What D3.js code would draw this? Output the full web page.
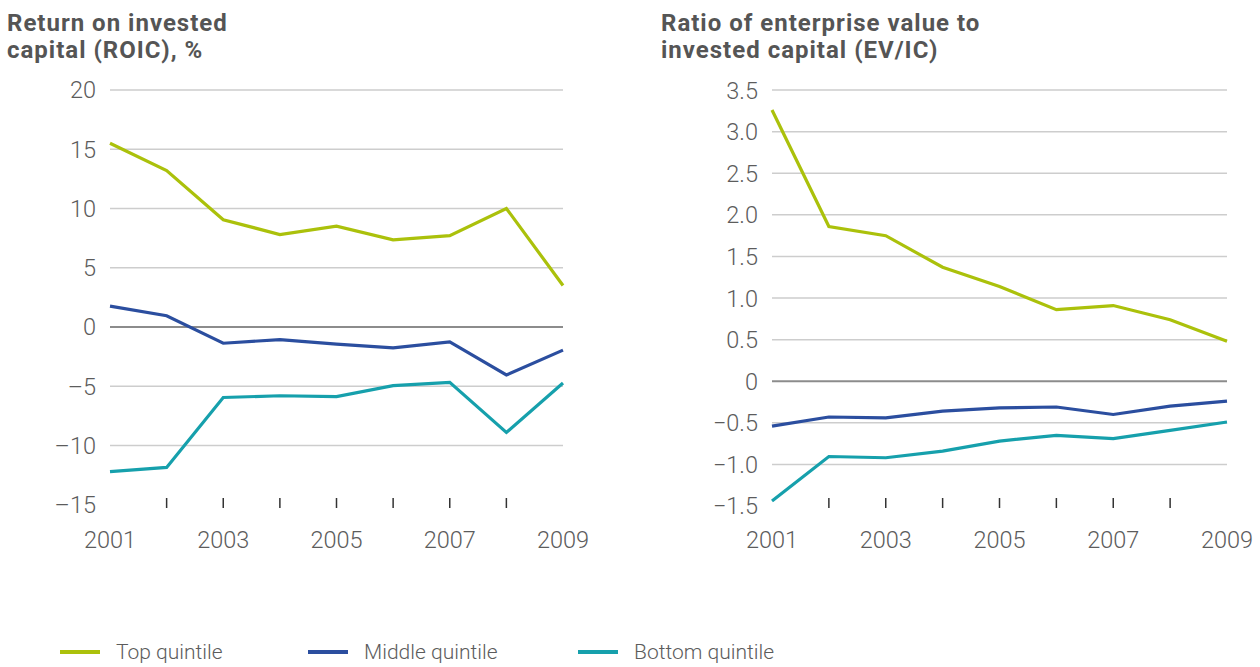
<!DOCTYPE html>
<html>
<head>
<meta charset="utf-8">
<script src="https://cdn.jsdelivr.net/npm/d3@7"></script>
<style>
    body { margin: 0; background: #fff; }
    svg { display: block; font-family: Roboto, "Noto Sans", sans-serif; }
    .title { font-weight: 700; font-size: 24px; fill: #555; letter-spacing: 1px; }
    .tick-label { font-weight: 300; font-size: 23.5px; fill: #5c5c5c; }
    .legend-label { font-weight: 300; font-size: 21px; fill: #5c5c5c; }
</style>
</head>
<body>
<svg width="1260" height="667"></svg>
<script>
"use strict";

const years = [2001, 2002, 2003, 2004, 2005, 2006, 2007, 2008, 2009];
const yearLabels = [2001, 2003, 2005, 2007, 2009];

const roicTop = [15.5, 13.2, 9.05, 7.8, 8.5, 7.35, 7.7, 10.0, 3.5];
const roicMiddle = [1.76, 0.95, -1.37, -1.06, -1.45, -1.76, -1.26, -4.05, -1.95];
const roicBottom = [-12.2, -11.85, -5.95, -5.8, -5.87, -4.95, -4.67, -8.9, -4.72];
const roicTicks = [20, 15, 10, 5, 0, -5, -10, -15];

const evicTop = [3.26, 1.86, 1.75, 1.37, 1.14, 0.86, 0.91, 0.74, 0.48];
const evicMiddle = [-0.54, -0.43, -0.44, -0.36, -0.32, -0.31, -0.40, -0.30, -0.24];
const evicBottom = [-1.44, -0.905, -0.92, -0.84, -0.72, -0.65, -0.69, -0.59, -0.49];
const evicTicks = [3.5, 3.0, 2.5, 2.0, 1.5, 1.0, 0.5, 0, -0.5, -1.0, -1.5];

const seriesNames = ['Top quintile', 'Middle quintile', 'Bottom quintile'];
const colorMapping = {
    'Top quintile': '#abc10b',
    'Middle quintile': '#2b4e9f',
    'Bottom quintile': '#16a0ac'
};

const minus = s => String(s).replace('-', '\u2013');

const svg = d3.select('svg');

function drawPanel(opts) {
    const g = svg.append('g');

    const x = d3.scaleLinear().domain([2001, 2009]).range([opts.x0, opts.x1]);
    const y = d3.scaleLinear().domain([opts.ticks[opts.ticks.length - 1], opts.ticks[0]]).range(opts.yRange);

    // title
    g.append('text')
        .attr('class', 'title')
        .attr('x', opts.titleX)
        .attr('y', 30.5)
        .selectAll('tspan')
        .data(opts.title)
        .enter().append('tspan')
        .attr('x', opts.titleX)
        .attr('dy', (d, i) => i === 0 ? 0 : 27.5)
        .text(d => d);

    // gridlines (none at the bottom tick)
    g.selectAll('.grid')
        .data(opts.ticks.slice(0, -1))
        .enter().append('line')
        .attr('x1', opts.x0).attr('x2', opts.x1)
        .attr('y1', d => y(d)).attr('y2', d => y(d))
        .attr('stroke', d => d === 0 ? '#8c8c8c' : '#cdcdcd')
        .attr('stroke-width', d => d === 0 ? 2 : 1.5);

    g.selectAll('.ylab')
        .data(opts.ticks)
        .enter().append('text')
        .attr('class', 'tick-label')
        .attr('x', opts.x0 - 14)
        .attr('y', d => y(d))
        .attr('dy', '0.36em')
        .attr('text-anchor', 'end')
        .text(d => minus(opts.fmt(d)));

    // small year ticks
    g.selectAll('.xtick')
        .data(years.slice(1, -1))
        .enter().append('line')
        .attr('x1', d => x(d)).attr('x2', d => x(d))
        .attr('y1', 498).attr('y2', 508)
        .attr('stroke', '#333')
        .attr('stroke-width', 1.5);

    g.selectAll('.xlab')
        .data(yearLabels)
        .enter().append('text')
        .attr('class', 'tick-label')
        .attr('x', d => x(d))
        .attr('y', 548)
        .attr('text-anchor', 'middle')
        .text(d => d);

    const line = d3.line()
        .x((d, i) => x(years[i]))
        .y(d => y(d));

    opts.series.forEach((values, i) => {
        g.append('path')
            .datum(values)
            .attr('d', line)
            .attr('fill', 'none')
            .attr('stroke', colorMapping[seriesNames[i]])
            .attr('stroke-width', 3.2)
            .attr('stroke-linejoin', 'miter');
    });
}

drawPanel({
    title: ['Return on invested', 'capital (ROIC), %'],
    titleX: 7,
    x0: 110, x1: 563,
    yRange: [504.8, 89.9],
    ticks: roicTicks,
    fmt: d => d,
    series: [roicTop, roicMiddle, roicBottom]
});

drawPanel({
    title: ['Ratio of enterprise value to', 'invested capital (EV/IC)'],
    titleX: 661,
    x0: 772, x1: 1227,
    yRange: [506, 90.1],
    ticks: evicTicks,
    fmt: d => d === 0 ? '0' : d3.format('.1f')(d),
    series: [evicTop, evicMiddle, evicBottom]
});

// legend
const legendX = [60, 308, 578];
const legend = svg.append('g');
seriesNames.forEach((name, i) => {
    legend.append('line')
        .attr('x1', legendX[i]).attr('x2', legendX[i] + 40)
        .attr('y1', 652).attr('y2', 652)
        .attr('stroke', colorMapping[name])
        .attr('stroke-width', 4);
    legend.append('text')
        .attr('class', 'legend-label')
        .attr('x', legendX[i] + 56)
        .attr('y', 659)
        .text(name);
});
</script>
</body>
</html>
